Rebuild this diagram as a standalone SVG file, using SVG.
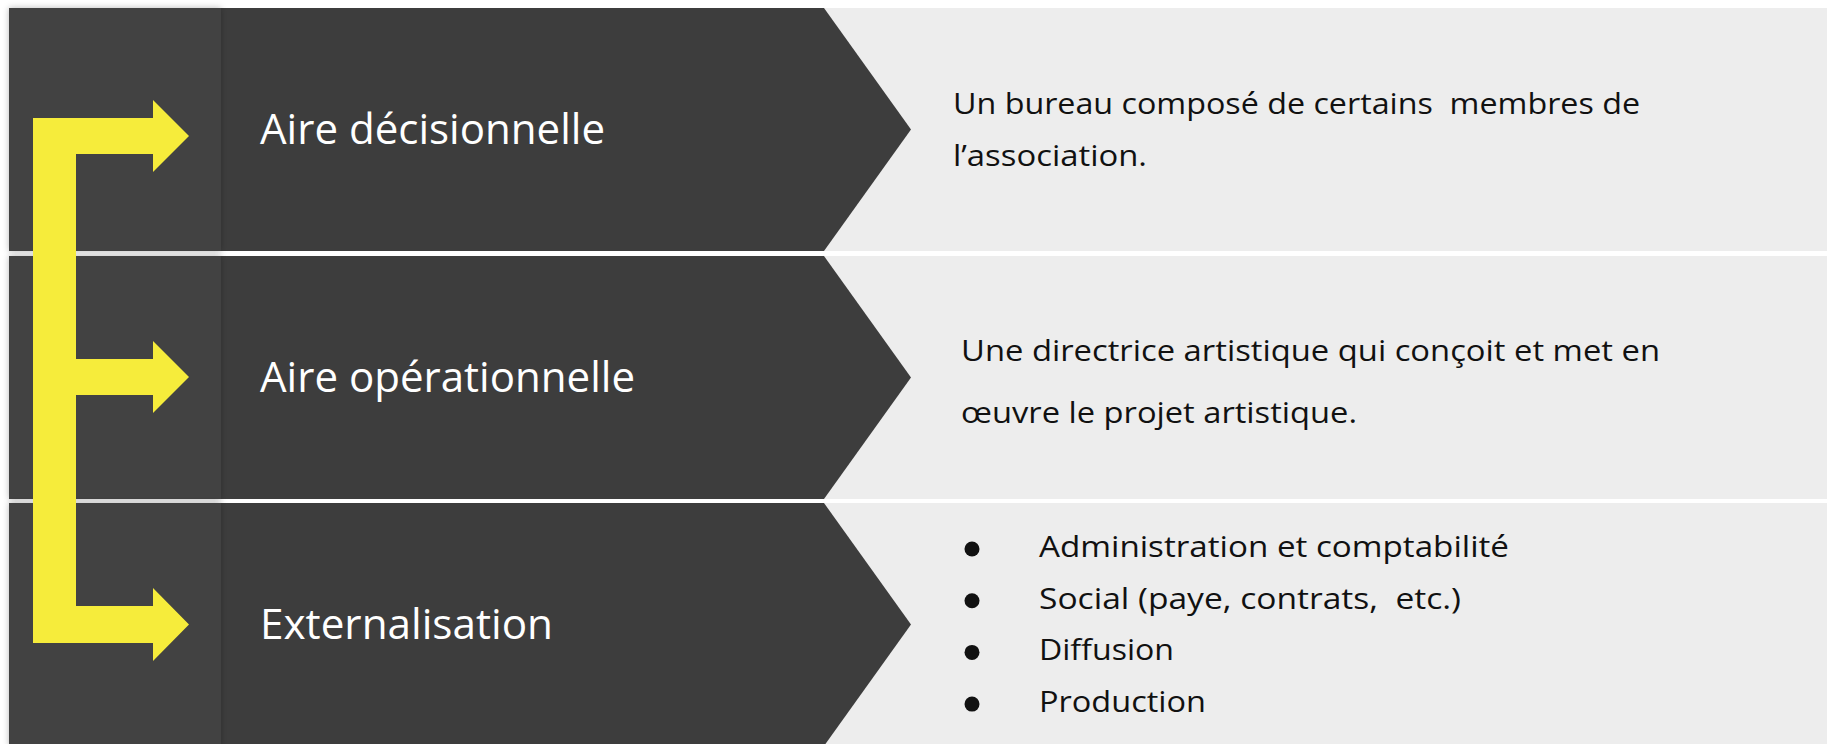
<svg xmlns="http://www.w3.org/2000/svg" width="1827" height="744" viewBox="0 0 1827 744">
<defs>
<style>
.panel{fill:#EDEDED}
.chev{fill:#3D3D3D}
.side{fill:#434343;filter:url(#sh)}
.lbl{font-family:"Open Sans","DejaVu Sans",sans-serif;font-size:42px;fill:#FFFFFF}
.txt{font-family:"Open Sans","DejaVu Sans",sans-serif;font-size:30px;fill:#111111;white-space:pre}
.dot{fill:#111111}
.arrow{fill:#F6EC3B}
</style>
<filter id="sh" x="-10%" y="-10%" width="120%" height="120%">
<feDropShadow dx="0" dy="0" stdDeviation="3" flood-color="#000" flood-opacity="0.28"/>
</filter>
</defs>
<rect width="1827" height="744" fill="#FFFFFF"/>

<g id="detail1">
<rect class="panel" x="800" y="8" width="1027" height="243"/>
<text class="txt" x="953" y="114" textLength="687" lengthAdjust="spacingAndGlyphs" xml:space="preserve">Un bureau composé de certains  membres de</text>
<text class="txt" x="953" y="166" textLength="194" lengthAdjust="spacingAndGlyphs">l’association.</text>
</g>
<g id="detail2">
<rect class="panel" x="800" y="256" width="1027" height="243"/>
<text class="txt" x="961" y="361" textLength="699" lengthAdjust="spacingAndGlyphs">Une directrice artistique qui conçoit et met en</text>
<text class="txt" x="961" y="423" textLength="396" lengthAdjust="spacingAndGlyphs">œuvre le projet artistique.</text>
</g>
<g id="detail3">
<rect class="panel" x="800" y="503" width="1027" height="243"/>
<circle class="dot" cx="972" cy="549" r="7.5"/>
<circle class="dot" cx="972" cy="600.7" r="7.5"/>
<circle class="dot" cx="972" cy="652.4" r="7.5"/>
<circle class="dot" cx="972" cy="704.1" r="7.5"/>
<text class="txt" x="1039" y="557" textLength="470" lengthAdjust="spacingAndGlyphs">Administration et comptabilité</text>
<text class="txt" x="1039" y="608.5" textLength="422" lengthAdjust="spacingAndGlyphs" xml:space="preserve">Social (paye, contrats,  etc.)</text>
<text class="txt" x="1039" y="660" textLength="135" lengthAdjust="spacingAndGlyphs">Diffusion</text>
<text class="txt" x="1039" y="711.7" textLength="167" lengthAdjust="spacingAndGlyphs">Production</text>
</g>

<g id="row1">
<polygon class="chev" points="9,8 824,8 911,129.5 824,251 9,251"/>
<rect class="side" x="9" y="8" width="212" height="243"/>
<text class="lbl" x="260" y="144" textLength="345" lengthAdjust="spacingAndGlyphs">Aire décisionnelle</text>
</g>
<g id="row2">
<polygon class="chev" points="9,256 824,256 911,377.5 824,499 9,499"/>
<rect class="side" x="9" y="256" width="212" height="243"/>
<text class="lbl" x="260" y="392" textLength="375" lengthAdjust="spacingAndGlyphs">Aire opérationnelle</text>
</g>
<g id="row3">
<polygon class="chev" points="9,503 824,503 911,624.5 824,746 9,746"/>
<rect class="side" x="9" y="503" width="212" height="243"/>
<text class="lbl" x="260" y="639" textLength="293" lengthAdjust="spacingAndGlyphs">Externalisation</text>
</g>

<g id="connectors">
<path class="arrow" d="M33,118 H153 V100 L189,136 L153,172 V154 H76 V359 H153 V341 L189,377 L153,413 V395 H76 V606 H153 V588 L189,624.5 L153,661 V643 H33 Z"/>
</g>
</svg>
